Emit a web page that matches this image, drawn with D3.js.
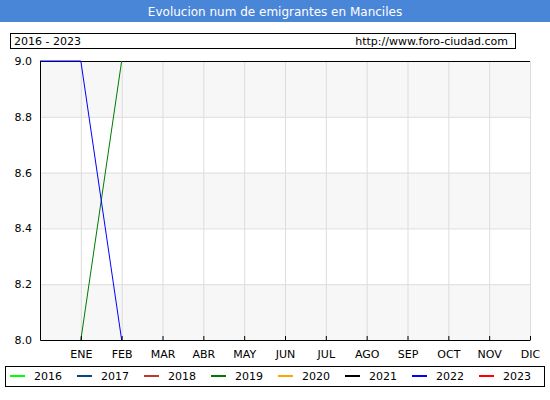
<!DOCTYPE html>
<html><head><meta charset="utf-8">
<script src="https://cdn.jsdelivr.net/npm/d3@7"></script>
<style>body{margin:0;background:#fff}</style>
</head><body><div id="chart"></div>
<script>
const months = ["ENE","FEB","MAR","ABR","MAY","JUN","JUL","AGO","SEP","OCT","NOV","DIC"];
const yTicks = [8.0, 8.2, 8.4, 8.6, 8.8, 9.0];
const years = ["2016","2017","2018","2019","2020","2021","2022","2023"];
const colors = ["#00ff00","#004a80","#c0392b","#007a00","#ffa500","#000000","#0000ff","#ff0000"];
// index -1 = previous December
const series2019 = [{i:0, v:8}, {i:1, v:9}];
const series2022 = [{i:-1, v:9}, {i:0, v:9}, {i:1, v:8}];

const W = 550, H = 400;
const font = "DejaVu Sans, Verdana, sans-serif";
const svg = d3.select("#chart").append("svg").attr("width", W).attr("height", H)
    .style("font-family", font);

svg.append("rect").attr("width", W).attr("height", 22).attr("fill", "#4a86d8");
svg.append("text").attr("x", W/2).attr("y", 16).attr("text-anchor", "middle")
    .attr("fill", "#fff").style("font-size", "12px").text("Evolucion num de emigrantes en Manciles");

svg.append("rect").attr("x", 10.5).attr("y", 33.5).attr("width", 505).attr("height", 15)
    .attr("fill", "#fff").attr("stroke", "#000");
svg.append("text").attr("x", 14).attr("y", 45).style("font-size", "11px").text("2016 - 2023");
svg.append("text").attr("x", 508).attr("y", 45).attr("text-anchor", "end").style("font-size", "11px")
    .text("http://www.foro-ciudad.com");

const x = d3.scaleLinear().domain([-1, 11]).range([40, 530]);
const y = d3.scaleLinear().domain([8, 9]).range([340, 61]);

const bands = [[8.8, 9.0], [8.4, 8.6], [8.0, 8.2]];
svg.append("g").selectAll("rect").data(bands).enter().append("rect")
    .attr("x", x(-1)).attr("width", x(11) - x(-1))
    .attr("y", d => y(d[1])).attr("height", d => y(d[0]) - y(d[1]))
    .attr("fill", "#f7f7f7");

svg.append("g").selectAll("line").data(yTicks).enter().append("line")
    .attr("x1", x(-1)).attr("x2", x(11)).attr("y1", d => y(d) + .5).attr("y2", d => y(d) + .5)
    .attr("stroke", "#ddd");
svg.append("g").selectAll("line").data(months).enter().append("line")
    .attr("x1", (d, i) => x(i) + .5).attr("x2", (d, i) => x(i) + .5)
    .attr("y1", y(9)).attr("y2", y(8)).attr("stroke", "#ddd");
svg.append("line").attr("x1", x(-1)).attr("x2", x(11)).attr("y1", y(9) + .5).attr("y2", y(9) + .5)
    .attr("stroke", "#000");

const line = d3.line().x(d => x(d.i)).y(d => y(d.v));
svg.append("path").datum(series2019).attr("d", line).attr("fill", "none").attr("stroke", colors[3]);
svg.append("path").datum(series2022).attr("d", line).attr("fill", "none").attr("stroke", colors[6]);

svg.append("g").attr("transform", `translate(${x(-1)},0)`)
    .call(d3.axisLeft(y).tickValues(yTicks).tickFormat(d3.format(".1f")).tickSize(0).tickPadding(8))
    .call(g => g.select(".domain").attr("stroke", "#000"))
    .selectAll("text").style("font-size", "11px").style("font-family", font);

svg.append("g").attr("transform", `translate(0,${y(8)})`)
    .call(d3.axisBottom(x).tickValues(d3.range(12)).tickFormat(i => months[i]).tickSizeInner(-4).tickSizeOuter(0).tickPadding(10))
    .call(g => g.select(".domain").attr("stroke", "#000"))
    .selectAll("text").style("font-size", "11px").style("font-family", font);

svg.append("rect").attr("x", 5.5).attr("y", 366.5).attr("width", 539).attr("height", 20)
    .attr("fill", "#fff").attr("stroke", "#000");
const leg = svg.append("g").selectAll("g").data(years).enter().append("g")
    .attr("transform", (d, i) => `translate(${10 + i * 67},376)`);
leg.append("line").attr("x1", 0).attr("x2", 15).attr("stroke", (d, i) => colors[i]).attr("stroke-width", 2);
leg.append("text").attr("x", 24).attr("y", 4).style("font-size", "11px").text(d => d);
</script></body></html>
